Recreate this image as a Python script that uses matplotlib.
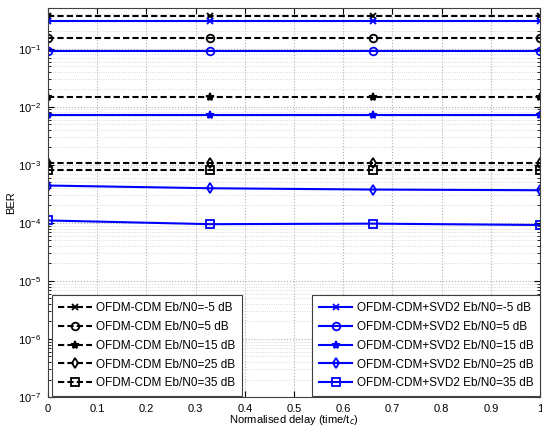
import matplotlib
matplotlib.use("Agg")
import matplotlib.pyplot as plt
import numpy as np
from matplotlib.ticker import LogLocator, NullFormatter

plt.rcParams['font.family'] = ['Liberation Sans', 'DejaVu Sans']
plt.rcParams['mathtext.fontset'] = 'custom'
plt.rcParams['mathtext.rm'] = 'Liberation Sans'

delay = [0, 0.33, 0.66, 1.0]
snr_labels = ['-5', '5', '15', '25', '35']
markers = ['x', 'o', '*', 'd', 's']
xtick_vals = [0, 0.1, 0.2, 0.3, 0.4, 0.5, 0.6, 0.7, 0.8, 0.9, 1.0]
xtick_labels = ['0', '0.1', '0.2', '0.3', '0.4', '0.5', '0.6', '0.7', '0.8', '0.9', '1']

ber_cdm = [
    [0.364, 0.364, 0.364, 0.364],
    [0.154, 0.154, 0.154, 0.154],
    [0.0148, 0.0148, 0.0148, 0.0148],
    [0.00108, 0.00108, 0.00108, 0.00108],
    [8.05e-4, 8.05e-4, 8.05e-4, 8.05e-4],
]
ber_svd = [
    [0.30, 0.30, 0.30, 0.30],
    [0.0908, 0.0908, 0.0908, 0.0908],
    [0.00735, 0.00735, 0.00735, 0.00735],
    [4.4e-4, 3.95e-4, 3.75e-4, 3.65e-4],
    [1.1e-4, 9.5e-5, 9.7e-5, 9.2e-5],
]

fig = plt.figure(figsize=(5.42, 4.30), dpi=100)
ax = fig.add_axes([0.0886, 0.0767, 0.9077, 0.9043])

msize = {'x': 5, 'o': 5.5, '*': 6, 'd': 5.5, 's': 5.5}
h1 = []
for i in range(5):
    m = markers[i]
    l, = ax.semilogy(delay, ber_cdm[i], 'k--', marker=m, markersize=msize[m],
                     markerfacecolor='k' if m == '*' else 'none', markeredgewidth=1.3,
                     linewidth=1.5, dashes=(3, 1.5),
                     label='OFDM-CDM Eb/N0=%s dB' % snr_labels[i])
    h1.append(l)
h2 = []
for i in range(5):
    m = markers[i]
    l, = ax.semilogy(delay, ber_svd[i], '-', color='#0000ff', marker=m, markersize=msize[m],
                     markerfacecolor='#0000ff' if m == '*' else 'none', markeredgewidth=1.3,
                     linewidth=1.5,
                     label='OFDM-CDM+SVD2 Eb/N0=%s dB' % snr_labels[i])
    h2.append(l)

ax.set_xlim(0, 1)
ax.set_ylim(1e-7, 0.5)
ax.set_xticks(xtick_vals)
ax.set_xticklabels(xtick_labels)
ax.yaxis.set_major_locator(LogLocator(base=10, numticks=20))
ax.yaxis.set_minor_locator(LogLocator(base=10, subs=np.arange(2, 10), numticks=20))
ax.yaxis.set_minor_formatter(NullFormatter())

ax.grid(True, which='major', linestyle=':', color='#b0b0b0', linewidth=0.8)
ax.grid(True, which='minor', axis='y', linestyle=':', color='#d0d0d0', linewidth=0.6)
ax.tick_params(direction='in', which='both', top=True, right=True, labelsize=8, length=4, pad=5)
ax.tick_params(which='minor', length=2)
for s in ax.spines.values():
    s.set_color('#404040')
    s.set_linewidth(0.8)

ax.set_xlabel('Normalised delay (time/t$_c$)', fontsize=8, labelpad=-1)
ax.set_ylabel('BER', fontsize=8, labelpad=1)

leg1 = ax.legend(handles=h1, loc='lower left', bbox_to_anchor=(0.008, 0.003), fontsize=8.5,
                 handlelength=2.8, fancybox=False, edgecolor='#404040', framealpha=1,
                 labelspacing=0.58, borderaxespad=0.0, handletextpad=0.4, borderpad=0.55)
leg1.get_frame().set_linewidth(0.8)
ax.add_artist(leg1)
leg2 = ax.legend(handles=h2, loc='lower right', bbox_to_anchor=(1.0, 0.003), fontsize=8.5,
                 handlelength=2.8, fancybox=False, edgecolor='#404040', framealpha=1,
                 labelspacing=0.58, borderaxespad=0.0, handletextpad=0.4, borderpad=0.55)
leg2.get_frame().set_linewidth(0.8)

fig.savefig('out.png', dpi=100)
